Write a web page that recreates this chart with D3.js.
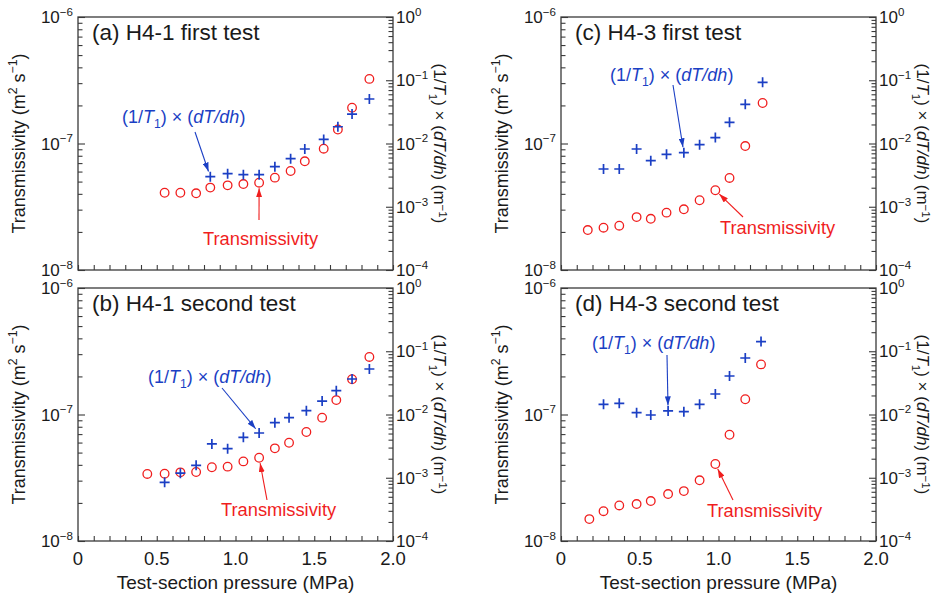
<!DOCTYPE html>
<html>
<head>
<meta charset="utf-8">
<script src="https://cdn.jsdelivr.net/npm/d3@7"></script>
<style>
  body { margin: 0; background: #fff; }
  text { font-family: "Liberation Sans", Arial, sans-serif; fill: #1a1a1a; }
</style>
</head>
<body>
<script>
"use strict";

// (a) H4-1 first test
const presA = [0.55, 0.65, 0.75, 0.84, 0.95, 1.05, 1.15, 1.25, 1.35, 1.44, 1.56, 1.65, 1.74, 1.85];
const transA = [4.08e-8, 4.08e-8, 4.04e-8, 4.48e-8, 4.67e-8, 4.78e-8, 4.90e-8, 5.37e-8, 6.06e-8, 7.23e-8, 9.10e-8, 1.29e-7, 1.92e-7, 3.24e-7];
const gradPresA = [0.84, 0.95, 1.05, 1.15, 1.25, 1.35, 1.44, 1.56, 1.65, 1.74, 1.85];
const gradA = [2.99e-3, 3.33e-3, 3.21e-3, 3.21e-3, 4.30e-3, 5.75e-3, 8.19e-3, 1.16e-2, 1.84e-2, 2.92e-2, 5.05e-2];

// (b) H4-1 second test
const presB = [0.44, 0.55, 0.65, 0.75, 0.85, 0.95, 1.05, 1.15, 1.25, 1.34, 1.45, 1.55, 1.64, 1.74, 1.85];
const transB = [3.39e-8, 3.40e-8, 3.49e-8, 3.51e-8, 3.83e-8, 3.87e-8, 4.26e-8, 4.55e-8, 5.40e-8, 5.98e-8, 7.27e-8, 9.44e-8, 1.30e-7, 1.90e-7, 2.85e-7];
const gradPresB = [0.55, 0.65, 0.75, 0.85, 0.95, 1.05, 1.15, 1.25, 1.34, 1.45, 1.55, 1.64, 1.74, 1.85];
const gradB = [8.47e-4, 1.18e-3, 1.57e-3, 3.42e-3, 2.88e-3, 4.36e-3, 5.10e-3, 7.42e-3, 8.90e-3, 1.15e-2, 1.63e-2, 2.38e-2, 3.64e-2, 5.24e-2];

// (c) H4-3 first test
const presC = [0.17, 0.27, 0.37, 0.48, 0.57, 0.67, 0.78, 0.88, 0.98, 1.07, 1.17, 1.28];
const transC = [2.07e-8, 2.16e-8, 2.24e-8, 2.62e-8, 2.54e-8, 2.84e-8, 3.02e-8, 3.56e-8, 4.27e-8, 5.34e-8, 9.55e-8, 2.09e-7];
const gradPresC = [0.27, 0.37, 0.48, 0.57, 0.67, 0.78, 0.88, 0.98, 1.07, 1.17, 1.28];
const gradC = [3.95e-3, 3.95e-3, 8.19e-3, 5.35e-3, 6.75e-3, 7.16e-3, 9.58e-3, 1.24e-2, 2.16e-2, 4.17e-2, 9.28e-2];

// (d) H4-3 second test
const presD = [0.18, 0.27, 0.37, 0.48, 0.57, 0.68, 0.78, 0.88, 0.98, 1.07, 1.17, 1.27];
const transD = [1.49e-8, 1.72e-8, 1.91e-8, 1.96e-8, 2.07e-8, 2.35e-8, 2.48e-8, 3.02e-8, 4.06e-8, 6.92e-8, 1.32e-7, 2.49e-7];
const gradPresD = [0.27, 0.37, 0.48, 0.57, 0.68, 0.78, 0.88, 0.98, 1.07, 1.17, 1.27];
const gradD = [1.45e-2, 1.50e-2, 1.07e-2, 9.82e-3, 1.14e-2, 1.11e-2, 1.45e-2, 2.11e-2, 4.06e-2, 7.82e-2, 1.42e-1];

const panelTitles = ["(a) H4-1 first test", "(b) H4-1 second test", "(c) H4-3 first test", "(d) H4-3 second test"];
const xTickVals = [0, 0.5, 1.0, 1.5, 2.0];
const xTickLabels = ["0", "0.5", "1.0", "1.5", "2.0"];
const leftTickVals = [1e-8, 1e-7, 1e-6];
const leftTickExp = ["\u22128", "\u22127", "\u22126"];
const rightTickVals = [1e-4, 1e-3, 1e-2, 1e-1, 1];
const rightTickExp = ["\u22124", "\u22123", "\u22122", "\u22121", "0"];

const red = "#f01e1e", blue = "#1b3fc4", axisColor = "#3a3a3a";
const pw = 315, ph = 253;

// blue / red label offsets inside the panel, arrow start, and which point the arrow hits
const panels = [
  { title: panelTitles[0], left: 78, top: 17, pres: presA, trans: transA, gpres: gradPresA, grad: gradA, xLabels: false,
    blue: { x: 44, y: 106, from: [117, 115], idx: 0 }, red: { x: 125, y: 228, from: [181, 203], idx: 6 } },
  { title: panelTitles[1], left: 78, top: 288, pres: presB, trans: transB, gpres: gradPresB, grad: gradB, xLabels: true,
    blue: { x: 70, y: 95, from: [144, 100], idx: 6 }, red: { x: 143, y: 228, from: [189, 212], idx: 7 } },
  { title: panelTitles[2], left: 561, top: 17, pres: presC, trans: transC, gpres: gradPresC, grad: gradC, xLabels: false,
    blue: { x: 49, y: 64, from: [112, 68], idx: 5 }, red: { x: 159, y: 217, from: [182, 200], idx: 8 } },
  { title: panelTitles[3], left: 561, top: 288, pres: presD, trans: transD, gpres: gradPresD, grad: gradD, xLabels: true,
    blue: { x: 31, y: 61, from: [106, 67], idx: 4 }, red: { x: 146, y: 229, from: [172, 212], idx: 8 } }
];

let svg = d3.select("body").append("svg").attr("width", 932).attr("height", 593);
let defs = svg.append("defs");

function addMarker(id, color) {
  defs.append("marker").attr("id", id)
    .attr("viewBox", "0 0 10 10").attr("refX", 10).attr("refY", 5)
    .attr("markerWidth", 9).attr("markerHeight", 6)
    .attr("preserveAspectRatio", "none")
    .attr("markerUnits", "userSpaceOnUse").attr("orient", "auto")
    .append("path").attr("d", "M0,0L10,5L0,10z").attr("fill", color);
}
addMarker("arrowRed", red);
addMarker("arrowBlue", blue);

// text with italic / sub / superscript pieces
function richText(t, parts, size, raise) {
  raise = raise || 0.42;
  let shift = 0;
  parts.forEach(p => {
    let ts = t.append("tspan").text(p.t);
    let target = p.sub ? size * 0.3 : p.sup ? -size * raise : 0;
    ts.attr("dy", target - shift);
    shift = target;
    if (p.sub || p.sup) ts.attr("font-size", size * 0.68);
    if (p.it) ts.attr("font-style", "italic");
  });
}

let x = d3.scaleLinear().domain([0, 2]).range([0, pw]);
let yL = d3.scaleLog().domain([1e-8, 1e-6]).range([ph, 0]);
let yR = d3.scaleLog().domain([1e-4, 1]).range([ph, 0]);

let xMinor = d3.range(1, 20).map(i => i / 10).filter(v => !xTickVals.includes(v));
function logMinor(e0, e1) {
  let out = [];
  for (let e = e0; e < e1; e++)
    for (let m = 2; m <= 9; m++) out.push(m * Math.pow(10, e));
  return out;
}
let minorL = logMinor(-8, -6);
let minorR = logMinor(-4, 0);

function styleAxis(sel) {
  sel.select(".domain").remove();
  sel.selectAll("line").attr("stroke", axisColor).attr("stroke-width", 1.1);
}

panels.forEach(p => {
  let g = svg.append("g").attr("transform", "translate(" + p.left + "," + p.top + ")");

  // ticks, all pointing inward
  g.append("g").attr("transform", "translate(0," + ph + ")")
    .call(d3.axisBottom(x).tickValues(xTickVals.concat(xMinor)).tickSize(-5).tickFormat(""))
    .call(styleAxis);
  g.append("g").call(d3.axisLeft(yL).tickValues(leftTickVals).tickSize(-7).tickFormat("")).call(styleAxis);
  g.append("g").call(d3.axisLeft(yL).tickValues(minorL).tickSize(-4.5).tickFormat("")).call(styleAxis);
  g.append("g").attr("transform", "translate(" + pw + ",0)")
    .call(d3.axisRight(yR).tickValues(rightTickVals).tickSize(-7).tickFormat("")).call(styleAxis);
  g.append("g").attr("transform", "translate(" + pw + ",0)")
    .call(d3.axisRight(yR).tickValues(minorR).tickSize(-4.5).tickFormat("")).call(styleAxis);

  g.append("rect").attr("width", pw).attr("height", ph)
    .attr("fill", "none").attr("stroke", axisColor).attr("stroke-width", 1.3);

  // left tick labels
  leftTickVals.forEach((v, i) => {
    let t = g.append("text").attr("x", -5).attr("y", yL(v) + 6).attr("text-anchor", "end").attr("font-size", 17);
    richText(t, [{ t: "10" }, { t: leftTickExp[i], sup: true }], 17);
  });
  // right tick labels
  rightTickVals.forEach((v, i) => {
    let t = g.append("text").attr("x", pw + 3).attr("y", yR(v) + 6).attr("font-size", 17);
    richText(t, [{ t: "10" }, { t: rightTickExp[i], sup: true }], 17);
  });

  // axis titles
  let tl = g.append("text").attr("text-anchor", "middle").attr("font-size", 18)
    .attr("transform", "translate(" + (-53) + "," + (ph / 2) + ") rotate(-90)");
  richText(tl, [{ t: "Transmissivity (m" }, { t: "2", sup: true }, { t: " s" }, { t: "\u22121", sup: true }, { t: ")" }], 18);

  let tr = g.append("text").attr("text-anchor", "middle").attr("font-size", 17)
    .attr("transform", "translate(" + (pw + 41) + "," + (ph / 2) + ") rotate(90)");
  richText(tr, [{ t: "(1/" }, { t: "T", it: true }, { t: "1", sub: true }, { t: ") \u00d7 (" },
    { t: "dT/dh", it: true }, { t: ") (m" }, { t: "\u22121", sup: true }, { t: ")" }], 17, 0.3);

  if (p.xLabels) {
    g.selectAll(".xl").data(xTickVals).enter().append("text")
      .attr("x", d => x(d)).attr("y", ph + 24)
      .attr("text-anchor", "middle").attr("font-size", 18.5)
      .text((d, i) => xTickLabels[i]);
    g.append("text").attr("x", pw / 2).attr("y", ph + 48)
      .attr("text-anchor", "middle").attr("font-size", 19)
      .text("Test-section pressure (MPa)");
  }

  g.append("text").attr("x", 14).attr("y", 23).attr("font-size", 22.5).text(p.title);

  // transmissivity: open red circles
  g.selectAll(".tc").data(p.pres).enter().append("circle")
    .attr("cx", d => x(d)).attr("cy", (d, i) => yL(p.trans[i]))
    .attr("r", 4.3).attr("fill", "none").attr("stroke", red).attr("stroke-width", 1.3);

  // gradient: blue plus
  g.selectAll(".gp").data(p.gpres).enter().append("path")
    .attr("transform", (d, i) => "translate(" + x(d) + "," + yR(p.grad[i]) + ")")
    .attr("d", "M-5,0H5M0,-5V5")
    .attr("stroke", blue).attr("stroke-width", 1.7);

  // annotations
  function arrow(from, tx, ty, color, id) {
    let dx = tx - from[0], dy = ty - from[1];
    let len = Math.sqrt(dx * dx + dy * dy), gap = 5.5;
    g.append("line").attr("x1", from[0]).attr("y1", from[1])
      .attr("x2", tx - dx / len * gap).attr("y2", ty - dy / len * gap)
      .attr("stroke", color).attr("stroke-width", 1.1)
      .attr("marker-end", "url(#" + id + ")");
  }
  let bt = g.append("text").attr("x", p.blue.x).attr("y", p.blue.y).attr("font-size", 18).style("fill", blue);
  richText(bt, [{ t: "(1/" }, { t: "T", it: true }, { t: "1", sub: true }, { t: ") \u00d7 (" }, { t: "dT/dh", it: true }, { t: ")" }], 18);
  arrow(p.blue.from, x(p.gpres[p.blue.idx]), yR(p.grad[p.blue.idx]), blue, "arrowBlue");

  g.append("text").attr("x", p.red.x).attr("y", p.red.y).attr("font-size", 18.3)
    .style("fill", red).text("Transmissivity");
  arrow(p.red.from, x(p.pres[p.red.idx]), yL(p.trans[p.red.idx]), red, "arrowRed");
});
</script>
</body>
</html>
